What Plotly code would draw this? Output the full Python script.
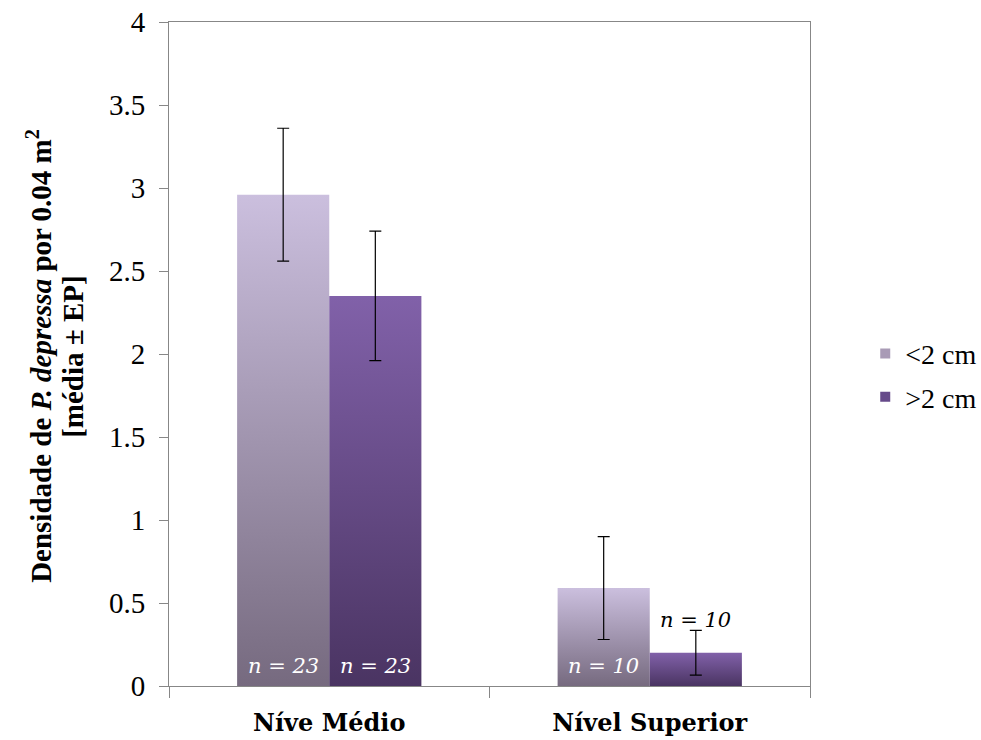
import plotly.graph_objects as go

categories = ["Níve Médio", "Nível Superior"]
series_names = ["<2 cm", ">2 cm"]
means = {"<2 cm": [2.96, 0.59], ">2 cm": [2.35, 0.20]}
errors = {"<2 cm": [0.40, 0.31], ">2 cm": [0.39, 0.135]}
n_labels = {"<2 cm": ["n = 23", "n = 10"], ">2 cm": ["n = 23", "n = 10"]}
y_ticks = [0, 0.5, 1, 1.5, 2, 2.5, 3, 3.5, 4]
y_tick_labels = ["0", "0.5", "1", "1.5", "2", "2.5", "3", "3.5", "4"]
y_title_lines = ["<b>Densidade de <i>P. depressa</i> por 0.04 m<sup>2</sup></b>", "<b>[média ± EP]</b>"]

colors_top = {"<2 cm": "#CBBFDE", ">2 cm": "#8161A9"}
colors_bottom = {"<2 cm": "#766A7F", ">2 cm": "#4A3462"}
legend_colors = {"<2 cm": "#A99BB6", ">2 cm": "#664A8A"}

bar_width = 0.2875
offsets = {"<2 cm": -bar_width / 2, ">2 cm": bar_width / 2}

fig = go.Figure()

for s in series_names:
    for ci, cat in enumerate(categories):
        xc = ci + offsets[s]
        x0, x1 = xc - bar_width / 2, xc + bar_width / 2
        v = means[s][ci]
        fig.add_trace(go.Scatter(
            x=[x0, x1, x1, x0, x0], y=[0, 0, v, v, 0],
            fill="toself", mode="lines", line=dict(width=0),
            fillgradient=dict(type="vertical",
                              colorscale=[[0, colors_bottom[s]], [1, colors_top[s]]],
                              start=0, stop=v),
            showlegend=False, hoverinfo="skip"))

for s in series_names:
    xs = [ci + offsets[s] for ci in range(len(categories))]
    fig.add_trace(go.Scatter(
        x=xs, y=means[s], mode="markers",
        marker=dict(size=1, color="rgba(0,0,0,0)"),
        error_y=dict(type="data", array=errors[s], color="black", thickness=1.2, width=6),
        showlegend=False, hoverinfo="skip"))

for gi, s in enumerate(series_names):
    fig.add_trace(go.Scatter(
        x=[None], y=[None], mode="markers", name=s, legendgroup=s,
        marker=dict(symbol="square", size=10, color=legend_colors[s])))

# n labels
for s in series_names:
    for ci, cat in enumerate(categories):
        xc = ci + offsets[s]
        v = means[s][ci]
        if v > 0.3:
            fig.add_annotation(x=xc, y=0.12, text=n_labels[s][ci], showarrow=False,
                               font=dict(family="DejaVu Serif", size=21, color="white", style="italic"))
        else:
            fig.add_annotation(x=xc, y=0.40, text=n_labels[s][ci], showarrow=False,
                               font=dict(family="DejaVu Serif", size=21, color="black", style="italic"))

# y axis title (two lines)
for li, (txt, xp) in enumerate(zip(y_title_lines, [-0.203, -0.150])):
    fig.add_annotation(xref="paper", yref="paper", x=xp, y=0.497, text=txt,
                       textangle=-90, showarrow=False, xanchor="center", yanchor="middle",
                       font=dict(family="Liberation Serif", size=29, color="black"))

fig.update_layout(
    width=981, height=740,
    margin=dict(l=169, r=171, t=22, b=54, autoexpand=False),
    plot_bgcolor="white", paper_bgcolor="white",
    font=dict(family="Liberation Serif", color="black"),
    showlegend=True,
    legend=dict(xref="container", yref="container", x=0.882, xanchor="left",
                y=0.493, yanchor="middle",
                font=dict(family="Liberation Serif", size=28),
                tracegroupgap=4, bgcolor="rgba(0,0,0,0)"),
    xaxis=dict(range=[-0.5, 1.5], tickvals=[0, 1], ticktext=categories,
               ticks="", showgrid=False, zeroline=False, automargin=False,
               showline=True, linecolor="#878787", linewidth=1, mirror=True,
               tickfont=dict(family="DejaVu Serif", size=24, weight="bold"),
               ticklabelstandoff=15,
               minor=dict(tick0=-0.5, dtick=1, ticks="outside", ticklen=11,
                          tickcolor="#878787", showgrid=False)),
    yaxis=dict(range=[0, 4], tickvals=y_ticks, ticktext=y_tick_labels,
               ticks="outside", ticklen=9, tickcolor="#878787",
               showgrid=False, zeroline=False, automargin=False,
               showline=True, linecolor="#878787", linewidth=1, mirror=True,
               tickfont=dict(family="Liberation Serif", size=29),
               ticklabelstandoff=8),
)

fig.write_html("out.html")
